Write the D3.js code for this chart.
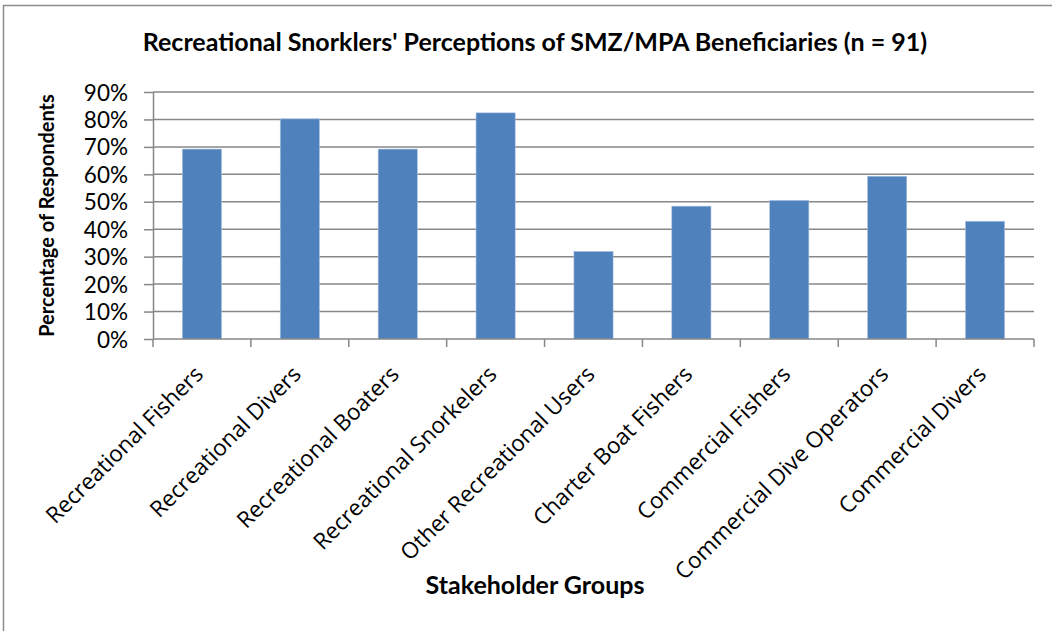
<!DOCTYPE html>
<html>
<head>
<meta charset="utf-8">
<script src="https://cdn.jsdelivr.net/npm/d3@7"></script>
<style>
  body { margin: 0; background: #fff; }
  text { font-family: "Open Sans", sans-serif; fill: #000; }
  .title { font-family: Lato, sans-serif; font-weight: bold; }
  .y-tick { font-family: Lato, sans-serif; }
</style>
</head>
<body>
<script>
"use strict";

// Stakeholder groups and share of respondents (n = 91)
const groups = [
  "Recreational Fishers",
  "Recreational Divers",
  "Recreational Boaters",
  "Recreational Snorkelers",
  "Other Recreational Users",
  "Charter Boat Fishers",
  "Commercial Fishers",
  "Commercial Dive Operators",
  "Commercial Divers"
];
const percents = [69.2, 80.2, 69.2, 82.4, 31.9, 48.4, 50.5, 59.3, 42.9];
const yTicks = [0, 10, 20, 30, 40, 50, 60, 70, 80, 90];

const width = 1052, height = 631;
const margin = {top: 92, right: 18, bottom: 292, left: 153};
const axisGrey = "#878787";

const svg = d3.select("body").append("svg")
    .attr("width", width)
    .attr("height", height);

// chart area border (cropped on the right and bottom)
svg.append("rect")
    .attr("x", 3.5).attr("y", 5.5)
    .attr("width", width + 10).attr("height", height + 10)
    .attr("fill", "none")
    .attr("stroke", "#8c8c8c")
    .attr("stroke-width", 1.5);

const plotRight = width - margin.right;

const x = d3.scaleBand()
    .domain(groups)
    .range([margin.left, plotRight])
    .paddingInner(0.6)
    .paddingOuter(0.3);

const y = d3.scaleLinear()
    .domain([0, 90])
    .range([height - margin.bottom, margin.top]);

// gridlines
svg.append("g")
  .selectAll("line")
  .data(yTicks.slice(1))
  .join("line")
    .attr("x1", margin.left).attr("x2", plotRight)
    .attr("y1", d => y(d)).attr("y2", d => y(d))
    .attr("stroke", axisGrey)
    .attr("stroke-width", 1.5);

// bars
svg.append("g")
  .selectAll("rect")
  .data(percents)
  .join("rect")
    .attr("x", (d, i) => x(groups[i]))
    .attr("y", d => y(d))
    .attr("width", x.bandwidth())
    .attr("height", d => y(0) - y(d))
    .attr("fill", "#4f81bd")
    .attr("stroke", "#a9c1e0")
    .attr("stroke-width", 0.6);

// y axis
const yAxis = svg.append("g")
    .attr("transform", `translate(${margin.left},0)`)
    .call(d3.axisLeft(y).tickValues(yTicks).tickFormat(d => d + "%")
      .tickSize(9).tickSizeOuter(0).tickPadding(16));
yAxis.select(".domain").attr("stroke", axisGrey).attr("stroke-width", 1.5);
yAxis.selectAll(".tick line").attr("stroke", axisGrey).attr("stroke-width", 1.5);
yAxis.selectAll(".tick text")
    .attr("class", "y-tick")
    .attr("font-size", 22.5)
    .attr("dy", "0.36em");

// x axis: ticks sit between categories
const xTickPos = d3.range(groups.length + 1)
    .map(i => margin.left + i * x.step());
svg.append("line")
    .attr("x1", margin.left).attr("x2", plotRight)
    .attr("y1", y(0)).attr("y2", y(0))
    .attr("stroke", axisGrey).attr("stroke-width", 1.5);
svg.append("g")
  .selectAll("line")
  .data(xTickPos)
  .join("line")
    .attr("x1", d => d).attr("x2", d => d)
    .attr("y1", y(0)).attr("y2", y(0) + 8)
    .attr("stroke", axisGrey).attr("stroke-width", 1.5);

svg.append("g")
  .selectAll("text")
  .data(groups)
  .join("text")
    .attr("transform", d => `translate(${x(d) + x.bandwidth() / 2 - 3},${y(0) + 31}) rotate(-45)`)
    .attr("text-anchor", "end")
    .attr("dy", "0.35em")
    .attr("font-size", 22.5)
    .text(d => d);

// titles
svg.append("text")
    .attr("class", "title")
    .attr("x", 535).attr("y", 51)
    .attr("text-anchor", "middle")
    .attr("font-size", 25)
    .text("Recreational Snorklers' Perceptions of SMZ/MPA Beneficiaries (n = 91)");

svg.append("text")
    .attr("class", "title")
    .attr("transform", `translate(54,${(margin.top + y(0)) / 2}) rotate(-90)`)
    .attr("text-anchor", "middle")
    .attr("font-size", 20)
    .text("Percentage of Respondents");

svg.append("text")
    .attr("class", "title")
    .attr("x", 535).attr("y", 594)
    .attr("text-anchor", "middle")
    .attr("font-size", 25)
    .text("Stakeholder Groups");
</script>
</body>
</html>
